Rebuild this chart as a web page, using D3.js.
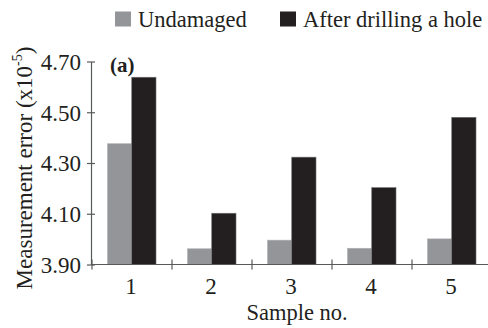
<!DOCTYPE html>
<html>
<head>
<meta charset="utf-8">
<script src="https://cdn.jsdelivr.net/npm/d3@7/dist/d3.min.js"></script>
<style>
  body { margin: 0; background: #fff; }
  svg text { font-family: "Liberation Serif", "Times New Roman", serif; fill: #231f20; }
</style>
</head>
<body>
<svg id="chart" width="488" height="328"></svg>
<script>
// data
var samples = [ "1", "2", "3", "4", "5" ];
var series_names = [ "Undamaged", "After drilling a hole" ];
var undamaged = [ 4.376, 3.962, 3.996, 3.964, 4.001 ];
var drilled = [ 4.638, 4.102, 4.323, 4.203, 4.480 ];
var y_ticks = [ 3.90, 4.10, 4.30, 4.50, 4.70 ];
var series_colors = [ "#939598", "#231f20" ];

var svg = d3.select( "#chart" );

var x = d3.scaleBand().domain( samples ).range( [ 92, 492 ] );
var x_sub = d3.scaleBand().domain( series_names ).range( [ 15.5, 64 ] );
var y = d3.scaleLinear().domain( [ 3.9, 4.7 ] ).range( [ 264.5, 61.5 ] );

var rows = samples.map( function( s, i ){
  return { sample: s, values: [ undamaged[ i ], drilled[ i ] ] };
} );

// bars
var groups = svg.selectAll( "g.group" )
  .data( rows )
  .enter()
  .append( "g" )
  .attr( "class", "group" )
  .attr( "transform", function( d ){ return "translate(" + x( d.sample ) + ",0)"; } );

groups.selectAll( "rect" )
  .data( function( d ){ return d.values.map( function( v, k ){ return { name: series_names[ k ], value: v, k: k }; } ); } )
  .enter()
  .append( "rect" )
  .attr( "x", function( d ){ return x_sub( d.name ); } )
  .attr( "y", function( d ){ return y( d.value ); } )
  .attr( "width", x_sub.bandwidth() )
  .attr( "height", function( d ){ return y( 3.9 ) - y( d.value ); } )
  .attr( "fill", function( d ){ return series_colors[ d.k ]; } )
  .attr( "stroke", function( d ){ return d.k == 1 ? "#6d6e71" : "#b0b1b3"; } )
  .attr( "stroke-width", 0.6 );

// y axis
var y_axis = svg.append( "g" )
  .attr( "transform", "translate(91,0)" )
  .call( d3.axisLeft( y ).tickValues( y_ticks ).tickFormat( d3.format( ".2f" ) ).tickSizeInner( 4 ).tickSizeOuter( 0 ).tickPadding( 6 ) );

y_axis.select( ".domain" ).attr( "stroke", "#58595b" ).attr( "stroke-width", 1.2 );
y_axis.selectAll( ".tick line" ).attr( "x1", -4 ).attr( "x2", 4 ).attr( "stroke", "#58595b" ).attr( "stroke-width", 1.2 );
y_axis.selectAll( ".tick text" ).style( "font-size", "23px" ).attr( "dy", "0.34em" );

// x axis
svg.append( "line" )
  .attr( "x1", 91 ).attr( "x2", 488 )
  .attr( "y1", y( 3.9 ) ).attr( "y2", y( 3.9 ) )
  .attr( "stroke", "#58595b" ).attr( "stroke-width", 1.2 );

svg.selectAll( "line.xtick" )
  .data( samples )
  .enter()
  .append( "line" )
  .attr( "class", "xtick" )
  .attr( "x1", function( d ){ return x( d ) + ( d == "1" ? 0 : 0 ); } )
  .attr( "x2", function( d ){ return x( d ); } )
  .attr( "y1", y( 3.9 ) - 5 )
  .attr( "y2", y( 3.9 ) + 5 )
  .attr( "stroke", "#58595b" )
  .attr( "stroke-width", 1.2 );

svg.selectAll( "text.xlabel" )
  .data( samples )
  .enter()
  .append( "text" )
  .attr( "class", "xlabel" )
  .attr( "x", function( d ){ return x( d ) + x.bandwidth() / 2 - 1; } )
  .attr( "y", 294 )
  .attr( "text-anchor", "middle" )
  .style( "font-size", "23px" )
  .text( function( d ){ return d; } );

// axis titles
svg.append( "text" )
  .attr( "x", 297 )
  .attr( "y", 320 )
  .attr( "text-anchor", "middle" )
  .style( "font-size", "22.5px" )
  .text( "Sample no." );

var y_title = svg.append( "text" )
  .attr( "transform", "translate(32,168) rotate(-90)" )
  .attr( "text-anchor", "middle" )
  .style( "font-size", "23px" );
y_title.append( "tspan" ).text( "Measurement error (x10" );
y_title.append( "tspan" ).attr( "dy", -10 ).style( "font-size", "14px" ).text( "-5" );
y_title.append( "tspan" ).attr( "dy", 10 ).text( ")" );

// panel tag
svg.append( "text" )
  .attr( "x", 110 )
  .attr( "y", 72 )
  .style( "font-size", "21px" )
  .style( "font-weight", "bold" )
  .text( "(a)" );

// legend
var legend_x = [ 115, 280 ];
series_names.forEach( function( name, k ){
  svg.append( "rect" )
    .attr( "x", legend_x[ k ] )
    .attr( "y", 11.5 )
    .attr( "width", 16 )
    .attr( "height", 15 )
    .attr( "fill", series_colors[ k ] );

  svg.append( "text" )
    .attr( "x", legend_x[ k ] + 23 )
    .attr( "y", 27 )
    .style( "font-size", "22.5px" )
    .text( name );
} );
</script>
</body>
</html>
